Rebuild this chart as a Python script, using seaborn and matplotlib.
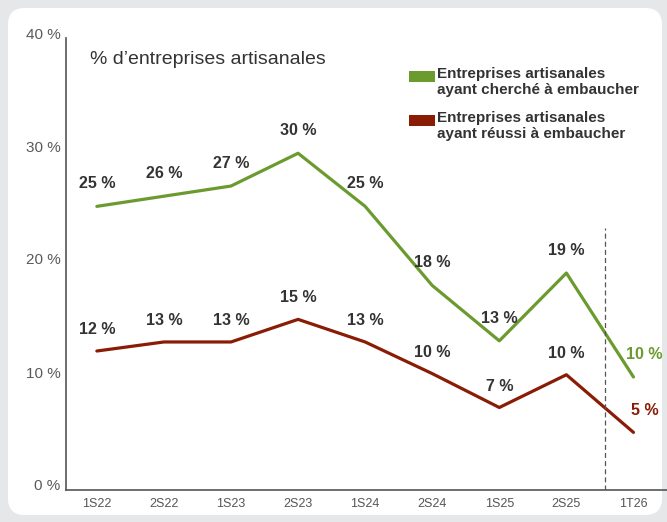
import matplotlib
matplotlib.use("Agg")
import matplotlib.pyplot as plt
import matplotlib.transforms as mtransforms
from matplotlib.patches import FancyBboxPatch, Rectangle
import seaborn as sns
import pandas as pd

periods = ["1S22", "2S22", "1S23", "2S23", "1S24", "2S24", "1S25", "2S25", "1T26"]
cherche = [25.1, 26.0, 26.9, 29.8, 25.1, 18.1, 13.2, 19.2, 10.0]
reussi = [12.3, 13.1, 13.1, 15.1, 13.1, 10.3, 7.3, 10.2, 5.1]
labels_cherche = ["25 %", "26 %", "27 %", "30 %", "25 %", "18 %", "13 %", "19 %", "10 %"]
labels_reussi = ["12 %", "13 %", "13 %", "15 %", "13 %", "10 %", "7 %", "10 %", "5 %"]
series_names = ["Entreprises artisanales\nayant cherché à embaucher",
                "Entreprises artisanales\nayant réussi à embaucher"]
y_ticks = [0, 10, 20, 30, 40]
y_ticklabels = ["0 %", "10 %", "20 %", "30 %", "40 %"]
title = "% d\u2019entreprises artisanales"

GREEN = "#6b9b2f"
RED = "#8a1c05"
TXT = "#333333"

sns.set_theme(style="white")
plt.rcParams["font.family"] = ["Liberation Sans", "DejaVu Sans"]

df = pd.DataFrame({
    "x": list(range(len(periods))) * 2,
    "val": cherche + reussi,
    "serie": [series_names[0]] * len(periods) + [series_names[1]] * len(periods),
})

W, H = 667, 522
fig = plt.figure(figsize=(W / 100, H / 100), dpi=100)
fig.patch.set_facecolor("#e6e7e9")
panel = FancyBboxPatch((8 / W, 7 / H), (662 - 8) / W, (514 - 7) / H,
                       boxstyle="round,pad=0,rounding_size=0.025",
                       transform=fig.transFigure, facecolor="white",
                       edgecolor="none", zorder=-10, mutation_aspect=W / H)
fig.patches.append(panel)

ax = fig.add_axes([66 / W, (H - 490) / H, (667 - 66) / W, (490 - 38) / H])
ax.set_facecolor("none")
ax.set_zorder(5)

sns.lineplot(data=df, x="x", y="val", hue="serie",
             palette={series_names[0]: GREEN, series_names[1]: RED},
             linewidth=2.3, ax=ax, legend=False)

ax.set_xlim(-0.46, 8.5)
ax.set_ylim(0, 40)
ax.set_xticks(range(len(periods)))
ax.set_xticklabels(periods, fontsize=9, color="#555555")
ax.set_yticks(y_ticks)
ax.set_yticklabels(y_ticklabels, fontsize=11, color="#5a5a5a")
ax.tick_params(axis="x", length=0, pad=6)
ax.tick_params(axis="y", length=3, width=0.8, color="#555555", pad=1)
off = mtransforms.ScaledTranslation(0, 5 / 100, fig.dpi_scale_trans)
for lbl in ax.get_yticklabels():
    lbl.set_transform(lbl.get_transform() + off)
ax.set_xlabel("")
ax.set_ylabel("")
for s in ["top", "right"]:
    ax.spines[s].set_visible(False)
for s in ["left", "bottom"]:
    ax.spines[s].set_color("#555555")
    ax.spines[s].set_linewidth(1.2)

ax.axvline(7.58, color="#555555", linestyle=(0, (4, 2.5)), linewidth=0.9, ymax=0.58)

n = len(periods)
for i in range(n - 1):
    ax.annotate(labels_cherche[i], (i, cherche[i]), xytext=(0, 11), textcoords="offset points",
                ha="center", va="bottom", fontsize=11.5, color=TXT, fontweight="bold")
    ax.annotate(labels_reussi[i], (i, reussi[i]), xytext=(0, 10), textcoords="offset points",
                ha="center", va="bottom", fontsize=11.5, color=TXT, fontweight="bold")
ax.annotate(labels_cherche[-1], (n - 1, cherche[-1]), xytext=(8, 11), textcoords="offset points",
            ha="center", va="bottom", fontsize=11.5, color=GREEN, fontweight="bold")
ax.annotate(labels_reussi[-1], (n - 1, reussi[-1]), xytext=(8, 10), textcoords="offset points",
            ha="center", va="bottom", fontsize=11.5, color=RED, fontweight="bold")

fig.text(90 / W, 1 - 60 / H, title, fontsize=14, color=TXT, va="center", ha="left")

# legend (manual, handles aligned with the first text line)
legend_colors = [GREEN, RED]
legend_tops = [69, 113]
for name, col, top in zip(series_names, legend_colors, legend_tops):
    fig.patches.append(Rectangle((409 / W, 1 - (top + 13) / H), 26 / W, 11 / H,
                                 transform=fig.transFigure, facecolor=col,
                                 edgecolor="none", zorder=6))
    fig.text(437 / W, 1 - (top - 2) / H, name, fontsize=11, fontweight="bold",
             color=TXT, ha="left", va="top", linespacing=1.2)

fig.savefig("out.png", dpi=100, facecolor=fig.get_facecolor())
